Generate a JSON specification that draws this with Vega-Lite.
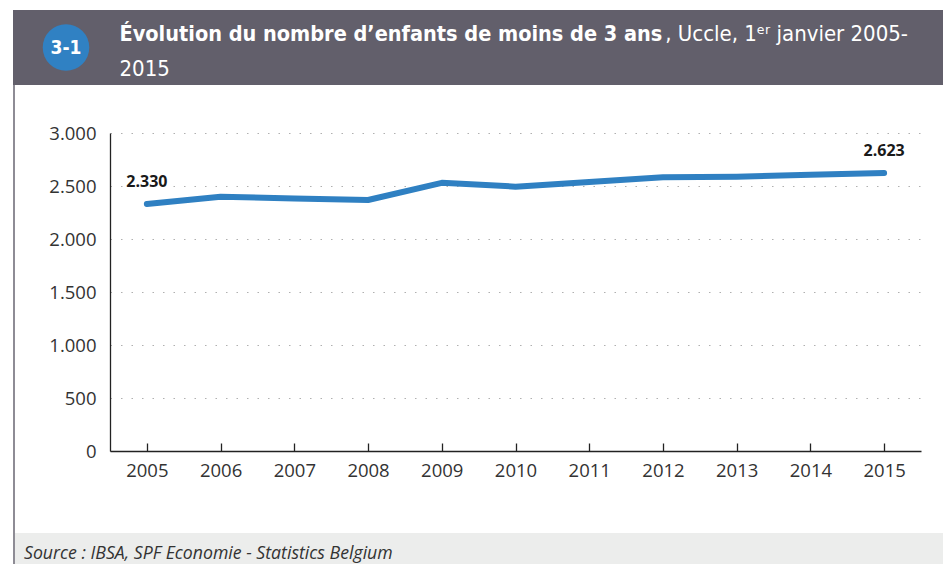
{
  "$schema": "https://vega.github.io/schema/vega-lite/v6.json",
  "background": "white",
  "padding": {"left": 13, "top": 10, "right": 0, "bottom": 0},
  "spacing": 0,
  "config": {
    "view": {"stroke": null},
    "concat": {"spacing": 0},
    "locale": {"number": {"decimal": ",", "thousands": ".", "grouping": [3], "currency": ["", " €"]}}
  },
  "vconcat": [
    {
      "spacing": 0,
      "hconcat": [
        {
          "width": 106,
          "height": 75,
          "view": {"fill": "#625f6b", "stroke": null},
          "data": {"values": [{"badge": "3-1"}]},
          "layer": [
            {"mark": {"type": "point", "shape": "circle", "filled": true, "size": 2165, "color": "#3081c3", "opacity": 1}, "encoding": {}},
            {"mark": {"type": "text", "font": "DejaVu Sans Condensed", "fontWeight": "bold", "fontSize": 19, "color": "white", "baseline": "middle", "align": "center", "dy": 0}, "encoding": {"text": {"field": "badge"}}}
          ]
        },
        {
          "width": 824,
          "height": 75,
          "view": {"fill": "#625f6b", "stroke": null},
          "data": {"values": [{"bold": "Évolution du nombre d’enfants de moins de 3 ans", "rest": ", Uccle, 1ᵉʳ janvier 2005-", "line2": "2015"}]},
          "layer": [
            {"mark": {"type": "text", "font": "DejaVu Sans Condensed", "fontWeight": "bold", "fontSize": 21.5, "color": "white", "align": "left", "baseline": "alphabetic", "dx": -411.5, "dy": -6.5}, "encoding": {"text": {"field": "bold"}}},
            {"mark": {"type": "text", "font": "DejaVu Sans Condensed", "fontSize": 22, "color": "white", "align": "right", "baseline": "alphabetic", "dx": 377, "dy": -6.5}, "encoding": {"text": {"field": "rest"}}},
            {"mark": {"type": "text", "font": "DejaVu Sans Condensed", "fontSize": 22, "color": "white", "align": "left", "baseline": "alphabetic", "dx": -411.5, "dy": 28.5}, "encoding": {"text": {"field": "line2"}}}
          ]
        }
      ]
    },
    {
      "spacing": 0,
      "hconcat": [
        {
          "width": 2,
          "height": 448,
          "view": {"fill": "#8e8c95", "stroke": null},
          "data": {"values": [{}]},
          "mark": {"type": "text"},
          "encoding": {"text": {"value": ""}}
        },
        {
          "spacing": 0,
          "vconcat": [
            {
              "width": 811,
              "height": 39,
              "data": {"values": [{}]},
              "mark": {"type": "text"},
              "encoding": {"text": {"value": ""}}
            },
            {
              "width": 811,
              "height": 318,
              "data": {"values": [
                {"year": "2005", "value": 2330},
                {"year": "2006", "value": 2399},
                {"year": "2007", "value": 2381},
                {"year": "2008", "value": 2368},
                {"year": "2009", "value": 2530},
                {"year": "2010", "value": 2494},
                {"year": "2011", "value": 2538},
                {"year": "2012", "value": 2582},
                {"year": "2013", "value": 2587},
                {"year": "2014", "value": 2606},
                {"year": "2015", "value": 2623}
              ]},
              "encoding": {
                "x": {
                  "field": "year", "type": "ordinal",
                  "scale": {"type": "point", "padding": 0.5},
                  "axis": {"title": null, "labelAngle": 0, "labelFont": "Open Sans", "labelFontSize": 18.5, "labelColor": "#333333", "tickSize": -8, "tickColor": "#222222", "tickWidth": 1.3, "domainColor": "#222222", "domainWidth": 1.3, "labelPadding": 18, "minExtent": 82, "grid": false}
                },
                "y": {
                  "field": "value", "type": "quantitative",
                  "scale": {"domain": [0, 3000]},
                  "axis": {"title": null, "values": [0, 500, 1000, 1500, 2000, 2500, 3000], "format": ",.0f", "grid": true, "gridDash": [1.5, 9], "gridColor": "#b0b0b0", "gridWidth": 1.2, "ticks": false, "domain": true, "domainColor": "#222222", "domainWidth": 1.3, "labelFont": "Open Sans", "labelFontSize": 18.5, "labelColor": "#333333", "labelPadding": 14, "minExtent": 95}
                }
              },
              "layer": [
                {"mark": {"type": "line", "color": "#2f80c2", "strokeWidth": 6, "strokeCap": "round", "strokeJoin": "round"}},
                {
                  "transform": [{"filter": {"field": "year", "oneOf": ["2005", "2015"]}}],
                  "mark": {"type": "text", "font": "Open Sans", "fontWeight": "bold", "fontSize": 16, "color": "#1a1a1a", "baseline": "alphabetic", "align": "center", "dy": -17},
                  "encoding": {"text": {"field": "value", "type": "quantitative", "format": ","}}
                }
              ]
            }
          ]
        }
      ]
    },
    {
      "spacing": 0,
      "hconcat": [
        {
          "width": 2,
          "height": 40,
          "view": {"fill": "#8e8c95", "stroke": null},
          "data": {"values": [{}]},
          "mark": {"type": "text"},
          "encoding": {"text": {"value": ""}}
        },
        {
          "width": 928,
          "height": 40,
          "view": {"fill": "#ecedec", "stroke": null},
          "data": {"values": [{"src": "Source : IBSA, SPF Economie - Statistics Belgium"}]},
          "mark": {"type": "text", "font": "Open Sans", "fontStyle": "italic", "fontSize": 17.7, "color": "#333333", "align": "left", "baseline": "alphabetic", "dx": -455, "dy": 5.5},
          "encoding": {"text": {"field": "src"}}
        }
      ]
    }
  ]
}
